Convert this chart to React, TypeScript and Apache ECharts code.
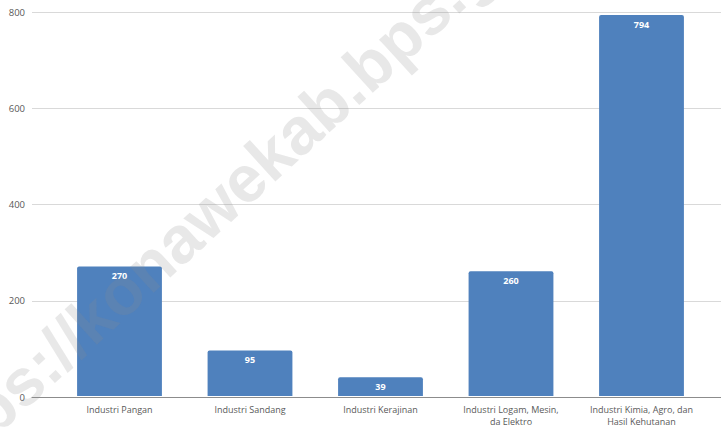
import React, { useEffect, useRef } from "react";
import * as echarts from "echarts";

const categories = [
  "Industri Pangan",
  "Industri Sandang",
  "Industri Kerajinan",
  "Industri Logam, Mesin,\nda Elektro",
  "Industri Kimia, Agro, dan\nHasil Kehutanan",
];
const values = [270, 95, 39, 260, 794];
const yMin = 0;
const yMax = 800;
const yStep = 200;
const watermark = "https://konawekab.bps.go.id";

export default function App() {
  const ref = useRef<HTMLDivElement>(null);
  useEffect(() => {
    if (!ref.current) return;
    const chart = echarts.init(ref.current, undefined, { renderer: "svg" });
    const font = "'Open Sans', sans-serif";
    chart.setOption({
      animation: false,
      backgroundColor: "#ffffff",
      grid: [
        { left: 32, right: 0, top: 12, bottom: 30 },
        { left: 54.25, width: 652.5, top: 12, bottom: 30 },
      ],
      xAxis: [
        {
          gridIndex: 0,
          type: "value",
          min: 0,
          max: 1,
          show: true,
          axisLabel: { show: false },
          axisTick: { show: false },
          splitLine: { show: false },
          axisLine: { show: true, lineStyle: { color: "#8c8c8c", width: 1 } },
        },
        {
          gridIndex: 1,
          type: "category",
          data: categories,
          axisLine: { show: false },
          axisTick: { show: false },
          axisLabel: {
            color: "#595959",
            fontSize: 9,
            fontFamily: font,
            margin: 7,
            lineHeight: 12,
            interval: 0,
          },
        },
      ],
      yAxis: [
        {
          gridIndex: 0,
          type: "value",
          min: yMin,
          max: yMax,
          interval: yStep,
          axisLine: { show: false },
          axisTick: { show: false },
          axisLabel: { color: "#595959", fontSize: 9.5, fontFamily: font, margin: 7 },
          splitLine: { show: true, lineStyle: { color: "#d9d9d9", width: 1 } },
        },
        {
          gridIndex: 1,
          type: "value",
          min: yMin,
          max: yMax,
          interval: yStep,
          show: false,
        },
      ],
      series: [
        {
          type: "bar",
          xAxisIndex: 1,
          yAxisIndex: 1,
          data: values,
          barWidth: "65%",
          z: 3,
          itemStyle: { color: "#4f81bd", borderRadius: [2, 2, 0, 0] },
          label: {
            show: true,
            position: "insideTop",
            distance: 5,
            color: "#ffffff",
            fontSize: 9,
            fontWeight: "bold",
            fontFamily: font,
          },
        },
      ],
      graphic: [
        {
          type: "text",
          x: 243,
          y: 180,
          rotation: 0.74,
          z: 100,
          silent: true,
          style: {
            text: watermark,
            font: "bold 66px 'Liberation Sans', Arial, sans-serif",
            fill: "rgba(140,140,140,0.2)",
            textAlign: "center",
            textVerticalAlign: "middle",
          },
        },
      ],
    });
    return () => chart.dispose();
  }, []);
  return (
    <div
      ref={ref}
      style={{ position: "fixed", left: 0, top: 0, width: 721, height: 427 }}
    />
  );
}
